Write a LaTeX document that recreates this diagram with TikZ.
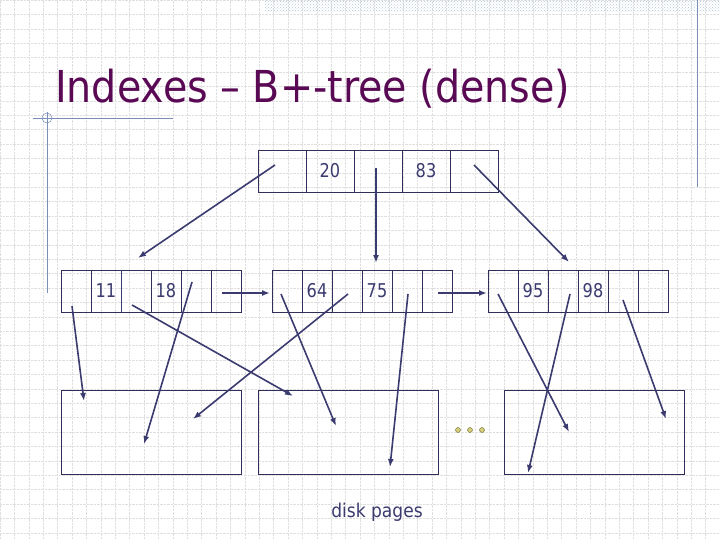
\documentclass[tikz,border=0pt]{standalone}
\usepackage{fontspec}
\setmainfont{DejaVu Sans}
\usetikzlibrary{patterns,arrows.meta}
\definecolor{ink}{HTML}{3B3B70}
\definecolor{ttl}{HTML}{5A0A55}
\definecolor{deco}{HTML}{7A8FB8}
\begin{document}
\begin{tikzpicture}[x=1pt,y=-1pt,
  cellbox/.style={draw=ink!80!black,line width=0.7pt,minimum width=30pt,minimum height=42pt,inner sep=0pt,font=\fontsize{19}{19}\selectfont,text=ink},
  topcell/.style={cellbox,minimum width=48pt},
  page/.style={draw=ink!80!black,line width=0.7pt,minimum width=180pt,minimum height=84pt,inner sep=0pt},
  ptr/.style={draw=ink,line width=1.6pt,-{Latex[length=8pt,width=6pt]}},
  dot/.style={circle,draw=olive!70!black,fill=olive!40,inner sep=0pt,minimum size=5pt}]
\useasboundingbox (0,0) rectangle (720,540);
\fill[white] (0,0) rectangle (720,540);
\draw[gray!25,densely dotted,step=14.4pt] (0,0) grid (720,540);
\fill[pattern=crosshatch dots,pattern color=deco!50] (265,0) rectangle (720,12);
\draw[deco,line width=0.8pt] (697,0) -- (697,187);
\draw[deco,line width=0.8pt] (47,112) -- (47,293);
\draw[deco,line width=0.8pt] (33,118) -- (173,118);
\draw[deco,line width=0.5pt] (47,118) circle (5);
\node[anchor=base west,text=ttl,inner sep=0pt,font=\fontsize{44}{44}\selectfont] (title) at (55,103) {\scalebox{0.9}[1]{Indexes – B+-tree (dense)}};
% top node
\foreach \i/\t in {0/,1/\scalebox{0.85}[1]{20},2/,3/\scalebox{0.85}[1]{83},4/} \node[topcell] (t\i) at (282+48*\i,171) {\t};
% leaves
\foreach \i/\t in {0/,1/\scalebox{0.85}[1]{11},2/,3/\scalebox{0.85}[1]{18},4/,5/} \node[cellbox] (a\i) at (76+30*\i,291) {\t};
\foreach \i/\t in {0/,1/\scalebox{0.85}[1]{64},2/,3/\scalebox{0.85}[1]{75},4/,5/} \node[cellbox] (b\i) at (287+30*\i,291) {\t};
\foreach \i/\t in {0/,1/\scalebox{0.85}[1]{95},2/,3/\scalebox{0.85}[1]{98},4/,5/} \node[cellbox] (c\i) at (503+30*\i,291) {\t};
\draw[ink,line width=1.3pt] (a1.north east) -- (a1.south east);
% pages
\node[page] (p1) at (151,432) {};
\node[page] (p2) at (348,432) {};
\node[page] (p3) at (594,432) {};
\node[dot] (d1) at (458,430) {};
\node[dot] (d2) at (470,430) {};
\node[dot] (d3) at (482,430) {};
\node[text=ink,font=\fontsize{19}{19}\selectfont] (lbl) at (377,512) {\scalebox{0.9}[1]{disk pages}};
% coordinates
\coordinate (s1) at (275,165); \coordinate (e1) at (138,258);
\coordinate (s2) at (376,168); \coordinate (e2) at (376,263);
\coordinate (s3) at (474,165); \coordinate (e3) at (569,262);
\coordinate (h1) at (222,293); \coordinate (h1e) at (270,293);
\coordinate (h2) at (438,293); \coordinate (h2e) at (487,293);
\draw[ptr] (s1) -- (e1);
\draw[ptr] (s2) -- (e2);
\draw[ptr] (s3) -- (e3);
\draw[ptr] (h1) -- (h1e);
\draw[ptr] (h2) -- (h2e);
\coordinate (q1) at (72,306); \coordinate (r1) at (84,401);
\coordinate (q2) at (192,282); \coordinate (r2) at (144,444);
\coordinate (q3) at (132,305); \coordinate (r3) at (293,396);
\coordinate (q4) at (281,294); \coordinate (r4) at (336,426);
\coordinate (q5) at (348,294); \coordinate (r5) at (193,419);
\coordinate (q6) at (408,294); \coordinate (r6) at (390,467);
\coordinate (q7) at (498,294); \coordinate (r7) at (569,432);
\coordinate (q8) at (570,294); \coordinate (r8) at (528,473);
\coordinate (q9) at (623,300); \coordinate (r9) at (666,419);
\foreach \k in {1,...,9} \draw[ptr] (q\k) -- (r\k);
\end{tikzpicture}
\end{document}
